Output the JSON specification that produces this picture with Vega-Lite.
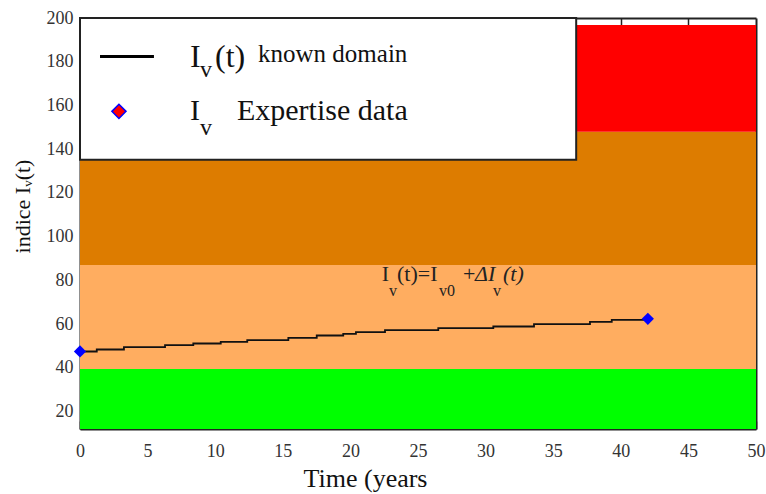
{
  "$schema": "https://vega.github.io/schema/vega-lite/v6.json",
  "width": 676,
  "height": 411,
  "autosize": "none",
  "padding": {"left": 80, "top": 18, "right": 10, "bottom": 65},
  "background": "white",
  "config": {
    "view": {"stroke": null},
    "font": "Liberation Serif",
    "axis": {
      "labelFont": "Liberation Serif",
      "labelFontSize": 18,
      "labelColor": "#333",
      "labelFlush": false,
      "tickColor": "#222",
      "tickWidth": 1.5,
      "tickSize": -8,
      "domainColor": "#222",
      "domainWidth": 2,
      "grid": false,
      "zindex": 1,
      "titleFont": "Liberation Serif",
      "titleFontWeight": "normal",
      "titleColor": "#111"
    }
  },
  "datasets": {
    "bands": [
      {"t0": 0, "t1": 50, "lo": 12, "hi": 39.5, "zone": "safe"},
      {"t0": 0, "t1": 50, "lo": 39.5, "hi": 87, "zone": "moderate"},
      {"t0": 0, "t1": 50, "lo": 87, "hi": 148, "zone": "high"},
      {"t0": 0, "t1": 50, "lo": 148, "hi": 196.8, "zone": "critical"}
    ],
    "box": [{"t0": 0, "t1": 36.7, "lo": 135.2, "hi": 200}],
    "curve": [
      {"t": 0, "iv": 47.45},
      {"t": 1.24, "iv": 48.37},
      {"t": 3.25, "iv": 49.47},
      {"t": 6.29, "iv": 50.38},
      {"t": 8.38, "iv": 51.11},
      {"t": 10.41, "iv": 51.89},
      {"t": 12.37, "iv": 52.67},
      {"t": 15.41, "iv": 53.72},
      {"t": 17.51, "iv": 54.77},
      {"t": 19.47, "iv": 55.55},
      {"t": 20.41, "iv": 56.33},
      {"t": 22.56, "iv": 57.24},
      {"t": 26.5, "iv": 58.16},
      {"t": 30.57, "iv": 58.89},
      {"t": 33.58, "iv": 59.99},
      {"t": 37.72, "iv": 61.04},
      {"t": 39.33, "iv": 61.96},
      {"t": 41.9, "iv": 61.96}
    ],
    "expert": [{"t": 0, "iv": 47.5}, {"t": 42, "iv": 62.4}],
    "legendLine": [{"t": 1.48, "t2": 5.47, "iv": 182.4}],
    "legendMark": [{"t": 2.88, "iv": 157.3}],
    "labels": [
      {"t": 8.14, "iv": 177.7, "label": "I", "role": "big"},
      {"t": 8.88, "iv": 173.1, "label": "v", "role": "lsub"},
      {"t": 9.99, "iv": 177.7, "label": "(t)", "role": "big"},
      {"t": 13.17, "iv": 180, "label": "known domain", "role": "lgtext"},
      {"t": 8.14, "iv": 153.5, "label": "I", "role": "big2"},
      {"t": 8.88, "iv": 146.6, "label": "v", "role": "lsub"},
      {"t": 11.61, "iv": 153.5, "label": "Expertise data", "role": "big2"},
      {"t": 22.31, "iv": 79.48, "label": "I", "role": "ann"},
      {"t": 22.85, "iv": 72.94, "label": "v", "role": "annsub"},
      {"t": 23.45, "iv": 79.48, "label": "(t)=I", "role": "ann"},
      {"t": 26.55, "iv": 72.94, "label": "v0", "role": "annsub"},
      {"t": 28.33, "iv": 79.48, "label": "+", "role": "ann"},
      {"t": 29.22, "iv": 79.48, "label": "ΔI", "role": "annit"},
      {"t": 30.55, "iv": 72.94, "label": "v", "role": "annsub"},
      {"t": 31.29, "iv": 79.48, "label": "(t)", "role": "annit"}
    ]
  },
  "resolve": {"axis": {"x": "independent", "y": "independent"}},
  "layer": [
    {
      "data": {"name": "bands"},
      "mark": {"type": "rect"},
      "encoding": {
        "x": {
          "field": "t0", "type": "quantitative",
          "scale": {"domain": [0, 50], "nice": false, "zero": false},
          "axis": {
            "orient": "bottom",
            "values": [0, 5, 10, 15, 20, 25, 30, 35, 40, 45, 50],
            "labelPadding": 21,
            "title": "Time (years",
            "titleFontSize": 26,
            "titleX": 285,
            "titleAnchor": "start",
            "titleAlign": "center",
            "titlePadding": 5
          }
        },
        "x2": {"field": "t1"},
        "y": {
          "field": "lo", "type": "quantitative",
          "scale": {"domain": [12, 200], "nice": false, "zero": false},
          "axis": {
            "orient": "left",
            "values": [20, 40, 60, 80, 100, 120, 140, 160, 180, 200],
            "labelPadding": 15,
            "tickOpacity": {"condition": {"test": "datum.value > 135", "value": 0}, "value": 1},
            "title": "indice Iᵥ(t)",
            "titleFontSize": 22,
            "titleY": 188,
            "titleAnchor": "start",
            "titleAlign": "center",
            "titlePadding": 12
          }
        },
        "y2": {"field": "hi"},
        "color": {
          "field": "zone", "type": "nominal",
          "scale": {"domain": ["safe", "moderate", "high", "critical"], "range": ["#00FF00", "#FFAD60", "#DD7C00", "#FF0000"]},
          "legend": null
        }
      }
    },
    {
      "data": {"name": "box"},
      "mark": {"type": "rect", "fill": "white", "stroke": "#222", "strokeWidth": 2},
      "encoding": {
        "x": {
          "field": "t0", "type": "quantitative",
          "axis": {"orient": "top", "values": [40, 45], "labels": false, "title": null}
        },
        "x2": {"field": "t1"},
        "y": {
          "field": "lo", "type": "quantitative",
          "axis": {"orient": "right", "values": [20, 40, 60, 80, 100, 120, 140, 160, 180], "labels": false, "title": null}
        },
        "y2": {"field": "hi"}
      }
    },
    {
      "data": {"name": "curve"},
      "mark": {"type": "line", "interpolate": "step-after", "color": "#111", "strokeWidth": 1.8},
      "encoding": {
        "x": {"field": "t", "type": "quantitative", "axis": null},
        "y": {"field": "iv", "type": "quantitative", "axis": null}
      }
    },
    {
      "data": {"name": "expert"},
      "mark": {"type": "point", "shape": "diamond", "filled": true, "color": "#0000FF", "size": 150, "opacity": 1},
      "encoding": {
        "x": {"field": "t", "type": "quantitative", "axis": null},
        "y": {"field": "iv", "type": "quantitative", "axis": null}
      }
    },
    {
      "data": {"name": "legendLine"},
      "mark": {"type": "rule", "color": "#000", "strokeWidth": 3},
      "encoding": {
        "x": {"field": "t", "type": "quantitative", "axis": null},
        "x2": {"field": "t2"},
        "y": {"field": "iv", "type": "quantitative", "axis": null}
      }
    },
    {
      "data": {"name": "legendMark"},
      "mark": {"type": "point", "shape": "diamond", "filled": true, "fill": "#FF0000", "stroke": "#0000FF", "strokeWidth": 1.5, "size": 200, "opacity": 1},
      "encoding": {
        "x": {"field": "t", "type": "quantitative", "axis": null},
        "y": {"field": "iv", "type": "quantitative", "axis": null}
      }
    },
    {
      "data": {"name": "labels"},
      "transform": [{"filter": "datum.role == 'big'"}],
      "mark": {"type": "text", "align": "left", "baseline": "alphabetic", "font": "Liberation Serif", "fontSize": 32, "color": "#111"},
      "encoding": {
        "x": {"field": "t", "type": "quantitative", "axis": null},
        "y": {"field": "iv", "type": "quantitative", "axis": null},
        "text": {"field": "label"}
      }
    },
    {
      "data": {"name": "labels"},
      "transform": [{"filter": "datum.role == 'big2'"}],
      "mark": {"type": "text", "align": "left", "baseline": "alphabetic", "font": "Liberation Serif", "fontSize": 30, "color": "#111"},
      "encoding": {
        "x": {"field": "t", "type": "quantitative", "axis": null},
        "y": {"field": "iv", "type": "quantitative", "axis": null},
        "text": {"field": "label"}
      }
    },
    {
      "data": {"name": "labels"},
      "transform": [{"filter": "datum.role == 'lsub'"}],
      "mark": {"type": "text", "align": "left", "baseline": "alphabetic", "font": "Liberation Serif", "fontSize": 24, "color": "#111"},
      "encoding": {
        "x": {"field": "t", "type": "quantitative", "axis": null},
        "y": {"field": "iv", "type": "quantitative", "axis": null},
        "text": {"field": "label"}
      }
    },
    {
      "data": {"name": "labels"},
      "transform": [{"filter": "datum.role == 'lgtext'"}],
      "mark": {"type": "text", "align": "left", "baseline": "alphabetic", "font": "Liberation Serif", "fontSize": 25, "color": "#111"},
      "encoding": {
        "x": {"field": "t", "type": "quantitative", "axis": null},
        "y": {"field": "iv", "type": "quantitative", "axis": null},
        "text": {"field": "label"}
      }
    },
    {
      "data": {"name": "labels"},
      "transform": [{"filter": "datum.role == 'ann'"}],
      "mark": {"type": "text", "align": "left", "baseline": "alphabetic", "font": "Liberation Serif", "fontSize": 22, "color": "#222"},
      "encoding": {
        "x": {"field": "t", "type": "quantitative", "axis": null},
        "y": {"field": "iv", "type": "quantitative", "axis": null},
        "text": {"field": "label"}
      }
    },
    {
      "data": {"name": "labels"},
      "transform": [{"filter": "datum.role == 'annsub'"}],
      "mark": {"type": "text", "align": "left", "baseline": "alphabetic", "font": "Liberation Serif", "fontSize": 16, "color": "#222"},
      "encoding": {
        "x": {"field": "t", "type": "quantitative", "axis": null},
        "y": {"field": "iv", "type": "quantitative", "axis": null},
        "text": {"field": "label"}
      }
    },
    {
      "data": {"name": "labels"},
      "transform": [{"filter": "datum.role == 'annit'"}],
      "mark": {"type": "text", "align": "left", "baseline": "alphabetic", "font": "Liberation Serif", "fontStyle": "italic", "fontSize": 22, "color": "#222"},
      "encoding": {
        "x": {"field": "t", "type": "quantitative", "axis": null},
        "y": {"field": "iv", "type": "quantitative", "axis": null},
        "text": {"field": "label"}
      }
    }
  ]
}
